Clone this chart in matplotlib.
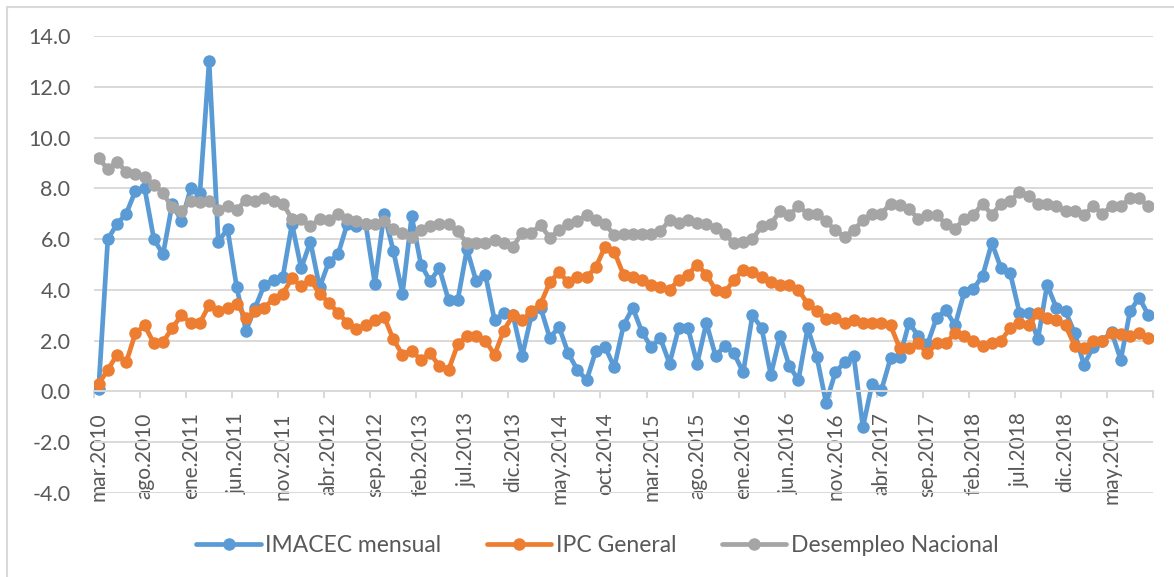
import numpy as np
import matplotlib.pyplot as plt
from matplotlib.patches import Rectangle

# monthly values, mar.2010 .. sep.2019
imacec = [0.1, 6.0, 6.6, 7.0, 7.9, 8.0, 6.0, 5.4, 7.4, 6.7,
          8.0, 7.8, 13.0, 5.9, 6.4, 4.1, 2.4, 3.3, 4.2, 4.4,
          4.5, 6.6, 4.85, 5.9, 4.1, 5.1, 5.4, 6.6, 6.5, 6.6,
          4.25, 7.0, 5.55, 3.85, 6.9, 5.0, 4.35, 4.85, 3.6, 3.6,
          5.6, 4.35, 4.6, 2.8, 3.1, 3.0, 1.4, 3.0, 3.3, 2.1,
          2.55, 1.5, 0.85, 0.45, 1.6, 1.75, 0.95, 2.6, 3.3, 2.35,
          1.75, 2.1, 1.1, 2.5, 2.5, 1.1, 2.7, 1.4, 1.8, 1.5,
          0.75, 3.0, 2.5, 0.65, 2.2, 1.0, 0.45, 2.5, 1.35, -0.45,
          0.75, 1.15, 1.4, -1.4, 0.3, 0.05, 1.3, 1.35, 2.7, 2.2,
          1.85, 2.9, 3.2, 2.6, 3.9, 4.05, 4.55, 5.85, 4.85, 4.65,
          3.1, 3.1, 2.05, 4.2, 3.3, 3.15, 2.3, 1.05, 1.75, 2.0,
          2.35, 1.25, 3.15, 3.7, 3.0]

ipc = [0.3, 0.85, 1.45, 1.15, 2.3, 2.6, 1.9, 1.95, 2.5, 3.0,
       2.7, 2.7, 3.4, 3.15, 3.3, 3.45, 2.9, 3.15, 3.3, 3.65,
       3.85, 4.45, 4.15, 4.4, 3.85, 3.5, 3.1, 2.7, 2.45, 2.6,
       2.8, 2.95, 2.05, 1.45, 1.6, 1.25, 1.5, 1.0, 0.85, 1.85,
       2.2, 2.2, 2.0, 1.45, 2.4, 3.0, 2.8, 3.15, 3.45, 4.3,
       4.7, 4.3, 4.5, 4.5, 4.9, 5.7, 5.5, 4.6, 4.5, 4.4,
       4.2, 4.1, 4.0, 4.4, 4.6, 5.0, 4.6, 4.0, 3.9, 4.4,
       4.8, 4.7, 4.5, 4.3, 4.2, 4.2, 4.0, 3.45, 3.15, 2.85,
       2.9, 2.7, 2.8, 2.7, 2.7, 2.7, 2.6, 1.7, 1.7, 1.9,
       1.5, 1.9, 1.9, 2.3, 2.2, 2.0, 1.8, 1.9, 2.0, 2.5,
       2.7, 2.6, 3.1, 2.9, 2.8, 2.6, 1.8, 1.7, 2.0, 2.0,
       2.3, 2.25, 2.2, 2.3, 2.1]

desempleo = [9.2, 8.75, 9.05, 8.65, 8.55, 8.45, 8.15, 7.8, 7.25, 7.1,
             7.5, 7.45, 7.5, 7.15, 7.3, 7.15, 7.55, 7.5, 7.6, 7.5,
             7.4, 6.8, 6.8, 6.5, 6.8, 6.75, 7.0, 6.8, 6.7, 6.6,
             6.6, 6.7, 6.4, 6.25, 6.1, 6.35, 6.5, 6.6, 6.6, 6.3,
             5.85, 5.85, 5.85, 5.95, 5.85, 5.7, 6.25, 6.25, 6.55, 6.05,
             6.35, 6.6, 6.7, 6.95, 6.75, 6.6, 6.15, 6.2, 6.2, 6.2,
             6.2, 6.3, 6.75, 6.65, 6.75, 6.65, 6.6, 6.45, 6.2, 5.85,
             5.9, 6.0, 6.5, 6.6, 7.1, 6.95, 7.3, 7.0, 7.0, 6.7,
             6.35, 6.1, 6.35, 6.75, 7.0, 7.0, 7.4, 7.35, 7.2, 6.8,
             6.95, 6.95, 6.6, 6.4, 6.8, 6.95, 7.4, 6.95, 7.4, 7.5,
             7.85, 7.7, 7.4, 7.4, 7.3, 7.1, 7.1, 6.95, 7.3, 7.0,
             7.3, 7.3, 7.6, 7.6, 7.3]

tick_labels = ['mar.2010', 'ago.2010', 'ene.2011', 'jun.2011', 'nov.2011',
               'abr.2012', 'sep.2012', 'feb.2013', 'jul.2013', 'dic.2013',
               'may.2014', 'oct.2014', 'mar.2015', 'ago.2015', 'ene.2016',
               'jun.2016', 'nov.2016', 'abr.2017', 'sep.2017', 'feb.2018',
               'jul.2018', 'dic.2018', 'may.2019']

series = [(imacec, '#5B9BD5', 'IMACEC mensual'),
          (ipc, '#ED7D31', 'IPC General'),
          (desempleo, '#A5A5A5', 'Desempleo Nacional')]

plt.rcParams['font.family'] = ['Lato', 'DejaVu Sans']
text_col = '#595959'
grid_col = '#D9D9D9'

W, H = 1174, 577
fig = plt.figure(figsize=(W / 100, H / 100), dpi=100)
ax = fig.add_axes([94 / W, 1 - 493 / H, (1153 - 94) / W, (493 - 36) / H])

x = np.arange(len(imacec))
for vals, col, lab in series:
    ax.plot(x, vals, color=col, lw=3.4, marker='o', ms=9, mew=0,
            label=lab, solid_capstyle='round', solid_joinstyle='round')

ax.set_xlim(-0.5, len(x) - 0.5)
ax.set_ylim(-4, 14)
yt = np.arange(-4, 15, 2)
ax.set_yticks(yt)
ax.set_yticklabels([f'{v:.1f}' for v in yt])
ax.grid(axis='y', color=grid_col, lw=1.4)
ax.set_axisbelow(True)
for s in ['top', 'right', 'left']:
    ax.spines[s].set_visible(False)
ax.spines['bottom'].set_position(('data', 0))
ax.spines['bottom'].set_color(grid_col)
ax.spines['bottom'].set_linewidth(1.4)

ax.set_xticks(x[::5])
ax.set_xticklabels(tick_labels, rotation=90, va='top', ha='center')
ax.set_xticks(np.arange(-0.5, len(x), 5), minor=True)
ax.tick_params(axis='x', which='major', length=0, pad=15,
               labelsize=15, labelcolor=text_col)
ax.tick_params(axis='x', which='minor', length=5, width=1.4, color=grid_col)
ax.tick_params(axis='y', length=0, pad=17, labelsize=15.5, labelcolor=text_col)

fig.legend(loc='center', bbox_to_anchor=(0.509, 0.055), ncol=3,
           frameon=False, fontsize=16.5, handlelength=2.8, handletextpad=0.2,
           columnspacing=2.0, labelcolor=text_col)

# chart border (only top/left fall inside the picture)
fig.patches.append(Rectangle((7 / W, -0.1), 1.2, 1 - 7 / H + 0.1,
                             transform=fig.transFigure, fill=False,
                             ec=grid_col, lw=1.5))

fig.savefig('out.png', dpi=100)
